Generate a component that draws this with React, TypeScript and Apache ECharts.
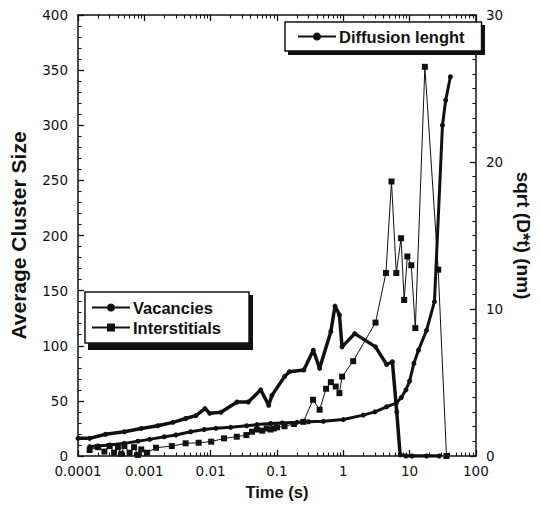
import React, { useEffect, useRef } from "react";
import * as echarts from "echarts";

const vacT = [0.0001, 0.00015, 0.00026, 0.0005, 0.0009, 0.0016, 0.0027, 0.0042, 0.006, 0.0082, 0.0097, 0.0143, 0.025, 0.037, 0.057, 0.075, 0.084, 0.13, 0.154, 0.254, 0.353, 0.44, 0.65, 0.75, 0.875, 0.957, 1.49, 3.06, 4.5, 5.5, 6.4, 7.2, 8.8, 10.9, 18, 28];
const vacV = [16, 16, 19.7, 22, 25, 27.5, 30.5, 34, 36.6, 43, 38.7, 39.6, 49, 49, 60, 46, 55, 72, 76.5, 78, 96, 79.5, 113, 136, 128, 99, 111, 99, 83, 85.5, 40, 1, 0, 0, 0, 0];

const intT = [0.00015, 0.0002, 0.00025, 0.0003, 0.00035, 0.0004, 0.00045, 0.0005, 0.0006, 0.0007, 0.0008, 0.0009, 0.0011, 0.0015, 0.0026, 0.0042, 0.0066, 0.0102, 0.0159, 0.0248, 0.0346, 0.042, 0.05, 0.06, 0.07, 0.08, 0.09, 0.1, 0.13, 0.18, 0.25, 0.35, 0.44, 0.55, 0.65, 0.77, 0.875, 0.96, 1.41, 3.06, 4.4, 5.33, 6.3, 7.43, 8.28, 9.25, 10.6, 12.2, 17, 27, 36];
const intV = [5.4, 8, 4, 9, 3, 8, 2, 9, 3, 8, 1, 6, 3, 7.5, 9, 11.5, 12, 13, 16, 17.5, 19, 22, 24, 23, 25, 24, 25, 26, 27, 29, 31, 51, 42, 61, 67, 63, 57, 72, 86, 121, 166, 249, 166, 197.5, 141.5, 181, 173, 116, 353, 169, 0];

const difT = [0.00015, 0.0002, 0.0003, 0.0005, 0.0008, 0.0012, 0.002, 0.003, 0.005, 0.008, 0.012, 0.02, 0.035, 0.05, 0.08, 0.12, 0.2, 0.3, 0.5, 1, 2, 3, 4.5, 6.3, 7.5, 8.8, 10, 11.6, 13.6, 18, 23.7, 31.3, 35, 41.2];
const difNm = [0.64, 0.68, 0.75, 0.86, 1.01, 1.13, 1.31, 1.43, 1.65, 1.8, 1.88, 1.95, 2.06, 2.14, 2.21, 2.25, 2.29, 2.33, 2.36, 2.48, 2.78, 3.0, 3.35, 3.6, 3.98, 4.5, 5.1, 6.3, 7.2, 8.55, 10.5, 22.5, 24.2, 25.8];

const xDecades = [-4, -3, -2, -1, 0, 1];
const minorMult = [2, 3, 4, 5, 6, 7, 8, 9];

const pair = (xs: number[], ys: number[]) => xs.map((x, i) => [x, ys[i]]);

export default function App() {
  const ref = useRef<HTMLDivElement>(null);
  useEffect(() => {
    if (!ref.current) return;
    const chart = echarts.init(ref.current, null, { renderer: "svg" });
    const minorLog: number[] = [];
    xDecades.forEach((d) => minorMult.forEach((m) => minorLog.push(d + Math.log10(m))));
    const tickFont = { fontFamily: "DejaVu Sans", fontSize: 13.5, color: "#111" };
    const titleFont = { fontFamily: "Liberation Sans", fontWeight: "bold" as const, fontSize: 16.5, color: "#111" };
    const mkLine = () => ({ show: true, onZero: false, lineStyle: { color: "#111", width: 1.5 } });
    const mkMajor = () => ({ show: true, inside: true, length: 6, lineStyle: { color: "#111", width: 1.3 } });
    const mkMinorX = () => ({ show: true, inside: true, length: 3.5, customValues: minorLog.slice(), lineStyle: { color: "#111", width: 1.1 } });
    const mkMinorY = (n: number) => ({ show: true, splitNumber: n, length: 3.5, lineStyle: { color: "#111", width: 1.1 } });
    const legendCommon = {
      z: 10,
      backgroundColor: "#fff",
      borderColor: "#111",
      borderWidth: 1.5,
      borderRadius: 0,
      itemWidth: 38,
      itemHeight: 10,
      itemGap: 3,
      textStyle: { ...titleFont, padding: [0, 0, 0, -2] },
    };
    chart.setOption({
      animation: false,
      backgroundColor: "#fff",
      grid: { left: 74, top: 15, right: 51, bottom: 50, containLabel: false },
      graphic: [
        { type: "rect", z: 3, silent: true, shape: { x: 288, y: 25, width: 197, height: 30 }, style: { fill: "#111" } },
        { type: "rect", z: 3, silent: true, shape: { x: 88, y: 295, width: 165, height: 55 }, style: { fill: "#111" } },
      ],
      legend: [
        {
          ...legendCommon,
          data: ["Diffusion lenght"],
          left: 285,
          top: 22,
          padding: [6, 17, 6, 12],
        },
        {
          ...legendCommon,
          data: ["Vacancies", "Interstitials"],
          orient: "vertical",
          left: 85,
          top: 292,
          padding: [7, 28, 7, 6],
        },
      ],
      xAxis: [
        {
          type: "log",
          logBase: 10,
          min: 0.0001,
          max: 100,
          interval: 1,
          position: "bottom",
          name: "Time (s)",
          nameLocation: "middle",
          nameGap: 27,
          nameTextStyle: titleFont,
          axisLine: mkLine(),
          axisTick: mkMajor(),
          axisLabel: { ...tickFont, margin: 8, formatter: (v: number) => String(v) },
          splitLine: { show: false },
        },
        {
          type: "value",
          min: -4,
          max: 2,
          position: "bottom",
          axisLine: { show: false, onZero: false },
          axisTick: mkMinorX(),
          axisLabel: { show: false },
          splitLine: { show: false },
        },
        {
          type: "log",
          logBase: 10,
          min: 0.0001,
          max: 100,
          interval: 1,
          position: "top",
          axisLine: mkLine(),
          axisTick: mkMajor(),
          axisLabel: { show: false },
          splitLine: { show: false },
        },
        {
          type: "value",
          min: -4,
          max: 2,
          position: "top",
          axisLine: { show: false, onZero: false },
          axisTick: mkMinorX(),
          axisLabel: { show: false },
          splitLine: { show: false },
        },
      ],
      yAxis: [
        {
          type: "value",
          min: 0,
          max: 400,
          interval: 50,
          position: "left",
          name: "Average Cluster Size",
          nameLocation: "middle",
          nameGap: 49,
          nameTextStyle: { ...titleFont, fontSize: 21 },
          axisLine: mkLine(),
          axisTick: mkMajor(),
          minorTick: mkMinorY(5),
          axisLabel: { ...tickFont, margin: 10 },
          splitLine: { show: false },
          minorSplitLine: { show: false },
        },
        {
          type: "value",
          min: 0,
          max: 30,
          interval: 10,
          position: "right",
          name: "sqrt (D*t) (nm)",
          nameLocation: "middle",
          nameRotate: -90,
          nameGap: 32,
          nameTextStyle: { ...titleFont, fontSize: 19 },
          axisLine: mkLine(),
          axisTick: mkMajor(),
          minorTick: mkMinorY(10),
          axisLabel: { ...tickFont, margin: 10 },
          splitLine: { show: false },
          minorSplitLine: { show: false },
        },
      ],
      series: [
        {
          name: "Diffusion lenght",
          type: "line",
          xAxisIndex: 0,
          yAxisIndex: 1,
          data: pair(difT, difNm),
          symbol: "circle",
          symbolSize: 5,
          lineStyle: { color: "#111", width: 3 },
          itemStyle: { color: "#111" },
        },
        {
          name: "Vacancies",
          type: "line",
          xAxisIndex: 0,
          yAxisIndex: 0,
          data: pair(vacT, vacV),
          symbol: "circle",
          symbolSize: 5,
          lineStyle: { color: "#111", width: 3.5 },
          itemStyle: { color: "#111" },
        },
        {
          name: "Interstitials",
          type: "line",
          xAxisIndex: 0,
          yAxisIndex: 0,
          data: pair(intT, intV),
          symbol: "rect",
          symbolSize: 6,
          lineStyle: { color: "#111", width: 1 },
          itemStyle: { color: "#111" },
        },
      ],
    });
    return () => chart.dispose();
  }, []);
  return <div ref={ref} style={{ width: 541, height: 506, position: "absolute", left: 0, top: 0 }} />;
}
